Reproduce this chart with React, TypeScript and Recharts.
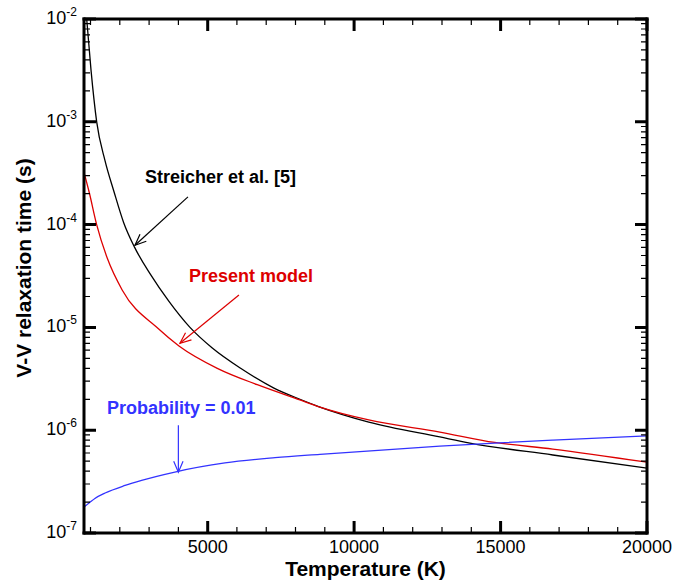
import React from "react";
import { LineChart, Line, XAxis, YAxis, ReferenceLine } from "recharts";

// values (T in K, tau in s)
const streicherT = [870, 1017, 1211, 1495, 1800, 2130, 2507, 3053, 3679, 4396, 5158, 6125, 7263, 8150, 8833, 10500, 12928, 13952, 16785, 20000];
const streicherTau = [1.0e-2, 3.2e-3, 1.0e-3, 4.2e-4, 2.1e-4, 1.05e-4, 6.0e-5, 3.26e-5, 1.79e-5, 1.0e-5, 6.3e-6, 4.0e-6, 2.57e-6, 2.0e-6, 1.68e-6, 1.2e-6, 8.6e-7, 7.5e-7, 5.74e-7, 4.27e-7];

const presentT = [780, 949, 1210, 1574, 2086, 3300, 4020, 5329, 6694, 8150, 8833, 10500, 12928, 14800, 16785, 20000];
const presentTau = [3.2e-4, 2.1e-4, 1.0e-4, 4.7e-5, 2.3e-5, 9.8e-6, 6.6e-6, 4.0e-6, 2.77e-6, 1.97e-6, 1.68e-6, 1.26e-6, 9.6e-7, 7.6e-7, 6.56e-7, 4.88e-7];

const probT = [780, 980, 1150, 1500, 2180, 2745, 3880, 5590, 7300, 8833, 12928, 14800, 16785, 20000];
const probTau = [1.79e-7, 1.99e-7, 2.17e-7, 2.45e-7, 2.9e-7, 3.25e-7, 3.92e-7, 4.8e-7, 5.4e-7, 5.83e-7, 7.0e-7, 7.5e-7, 8.0e-7, 8.8e-7];

const xMajorTicks = [5000, 10000, 15000, 20000];
const xMinorTicks = [1000, 2000, 3000, 4000, 6000, 7000, 8000, 9000, 11000, 12000, 13000, 14000, 16000, 17000, 18000, 19000];
const yMajorTicks = [1e-7, 1e-6, 1e-5, 1e-4, 1e-3, 1e-2];
const yMinorMult = [2, 3, 4, 5, 6, 7, 8, 9];

const xDomain = [778, 20000];
const yDomain = [1e-7, 1e-2];

const yMinorTicks = yMajorTicks.slice(0, -1).flatMap((d) => yMinorMult.map((m) => m * d));

const toPoints = (t: number[], v: number[]) => t.map((x, i) => ({ t: x, v: v[i] }));

const FONT = "'Liberation Sans', Arial, Helvetica, sans-serif";
const RED = "#dd0000";
const BLUE = "#3333ff";

const W = 675;
const H = 583;
const margin = { top: 18, right: 27, bottom: 49, left: 83 };
const AXIS_W = 1;

// plot box as laid out by the chart (margin + 1px axis)
const plotLeft = margin.left + AXIS_W;
const plotRight = W - margin.right - AXIS_W;
const plotTop = margin.top + AXIS_W;
const plotBottom = H - margin.bottom - AXIS_W;

function BottomLabel({ x, y, payload }: any) {
  return (
    <text x={Number(x)} y={Number(y) + 20} textAnchor="middle" fontSize={18} fontFamily={FONT} fill="#000">
      {payload.value}
    </text>
  );
}

function LeftLabel({ x, y, payload }: any) {
  const v = payload.value;
  return (
    <text x={Number(x) - 7} y={Number(y) + 5} textAnchor="end" fontSize={18} fontFamily={FONT} fill="#000">
      10
      <tspan dy={-8} fontSize={12}>
        {Math.round(Math.log10(v))}
      </tspan>
    </text>
  );
}

const px = (t: number) => plotLeft + ((t - xDomain[0]) / (xDomain[1] - xDomain[0])) * (plotRight - plotLeft);
const py = (v: number) => {
  const lo = Math.log10(yDomain[0]);
  const hi = Math.log10(yDomain[1]);
  return plotBottom - ((Math.log10(v) - lo) / (hi - lo)) * (plotBottom - plotTop);
};

// inward frame ticks on all four sides, as two paths (minor, major)
function tickPath(len: number, xs: number[], ys: number[]) {
  let d = "";
  xs.forEach((t) => {
    const x = px(t).toFixed(1);
    d += `M${x},${plotBottom}V${plotBottom - len}M${x},${plotTop}V${plotTop + len}`;
  });
  ys.forEach((v) => {
    const y = py(v).toFixed(1);
    d += `M${plotLeft},${y}H${plotLeft + len}M${plotRight},${y}H${plotRight - len}`;
  });
  return d;
}

const arrowShape = (color: string) => (p: any) => {
  const x1 = Number(p.x1);
  const y1 = Number(p.y1);
  const x2 = Number(p.x2);
  const y2 = Number(p.y2);
  const ang = Math.atan2(y2 - y1, x2 - x1);
  const L = 12;
  const a = 0.4;
  const ax = x2 - L * Math.cos(ang - a);
  const ay = y2 - L * Math.sin(ang - a);
  const bx = x2 - L * Math.cos(ang + a);
  const by = y2 - L * Math.sin(ang + a);
  return (
    <g>
      <line x1={x1} y1={y1} x2={x2} y2={y2} stroke={color} strokeWidth={1.2} />
      <polyline points={`${ax},${ay} ${x2},${y2} ${bx},${by}`} fill="none" stroke={color} strokeWidth={1.2} />
    </g>
  );
};

const axisLine = { stroke: "#000", strokeWidth: 3, strokeLinecap: "square" as const };

export default function App() {
  return (
    <div style={{ position: "absolute", left: 0, top: 0, width: W, height: H, background: "#fff" }}>
      <LineChart width={W} height={H} margin={margin}>
        <XAxis
          xAxisId={0}
          dataKey="t"
          type="number"
          domain={xDomain}
          allowDataOverflow
          ticks={xMajorTicks}
          interval={0}
          height={AXIS_W}
          tickSize={0}
          tickMargin={0}
          tickLine={false}
          axisLine={axisLine}
          tick={<BottomLabel />}
        />
        <XAxis
          xAxisId="top"
          orientation="top"
          type="number"
          domain={xDomain}
          allowDataOverflow
          height={AXIS_W}
          tick={false}
          tickLine={false}
          axisLine={axisLine}
        />
        <YAxis
          yAxisId={0}
          dataKey="v"
          type="number"
          scale="log"
          domain={yDomain}
          allowDataOverflow
          ticks={yMajorTicks}
          interval={0}
          width={AXIS_W}
          tickSize={0}
          tickMargin={0}
          tickLine={false}
          axisLine={axisLine}
          tick={<LeftLabel />}
        />
        <YAxis
          yAxisId="right"
          orientation="right"
          type="number"
          scale="log"
          domain={yDomain}
          allowDataOverflow
          width={AXIS_W}
          tick={false}
          tickLine={false}
          axisLine={axisLine}
        />
        <Line
          data={toPoints(streicherT, streicherTau)}
          dataKey="v"
          type="monotone"
          stroke="#000"
          strokeWidth={1.3}
          dot={false}
          isAnimationActive={false}
        />
        <Line
          data={toPoints(presentT, presentTau)}
          dataKey="v"
          type="monotone"
          stroke={RED}
          strokeWidth={1.3}
          dot={false}
          isAnimationActive={false}
        />
        <Line
          data={toPoints(probT, probTau)}
          dataKey="v"
          type="monotone"
          stroke={BLUE}
          strokeWidth={1.3}
          dot={false}
          isAnimationActive={false}
        />
        <ReferenceLine
          segment={[{ x: 4327, y: 1.86e-4 }, { x: 2519, y: 6.3e-5 }]}
          shape={arrowShape("#000")}
        />
        <ReferenceLine
          segment={[{ x: 6068, y: 2.07e-5 }, { x: 4054, y: 7.0e-6 }]}
          shape={arrowShape(RED)}
        />
        <ReferenceLine
          segment={[{ x: 4000, y: 1.12e-6 }, { x: 4000, y: 3.9e-7 }]}
          shape={arrowShape(BLUE)}
        />
      </LineChart>
      <svg
        width={W}
        height={H}
        style={{ position: "absolute", left: 0, top: 0, pointerEvents: "none", zIndex: 2 }}
      >
        <path d={tickPath(6, xMinorTicks, yMinorTicks)} stroke="#000" strokeWidth={1.2} fill="none" />
        <path d={tickPath(12, xMajorTicks, yMajorTicks)} stroke="#000" strokeWidth={3} fill="none" />
        <g fontFamily={FONT} fontWeight="bold">
          <text x={145} y={183} fontSize={18} fill="#000">
            Streicher et al. [5]
          </text>
          <text x={189} y={282} fontSize={18} fill={RED}>
            Present model
          </text>
          <text x={107} y={414} fontSize={18} fill={BLUE}>
            Probability = 0.01
          </text>
          <text x={365.5} y={576} fontSize={21} textAnchor="middle" fill="#000">
            Temperature (K)
          </text>
          <text transform="translate(31,268) rotate(-90)" fontSize={21} textAnchor="middle" fill="#000">
            V-V relaxation time (s)
          </text>
        </g>
      </svg>
    </div>
  );
}
